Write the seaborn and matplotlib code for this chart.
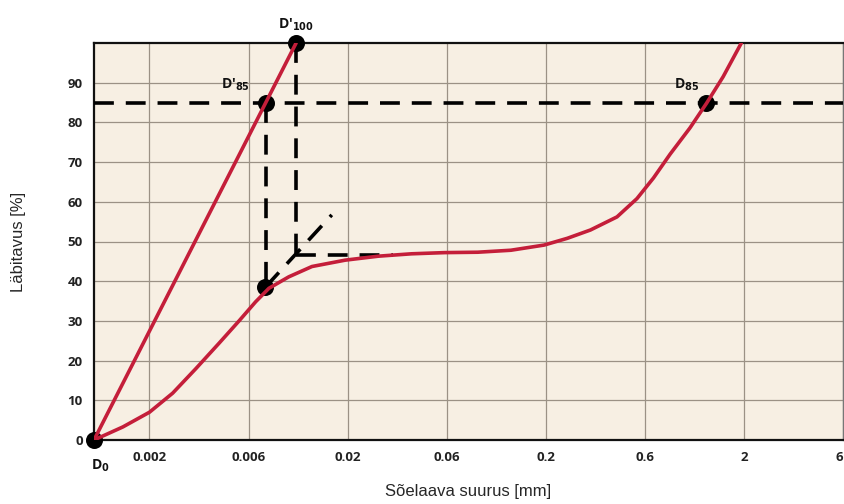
import numpy as np
import pandas as pd
import matplotlib
matplotlib.use("Agg")
import matplotlib.pyplot as plt
import seaborn as sns

# ---- data (x in evenly spaced tick-index units: 0 -> 0.002 mm, 1 -> 0.006 mm, ...) ----
tick_labels = ["0.002", "0.006", "0.02", "0.06", "0.2", "0.6", "2", "6"]
tick_pos = [0, 1, 2, 3, 4, 5, 6, 7]
y_ticks = [0, 10, 20, 30, 40, 50, 60, 70, 80, 90]

# Curve 1: grading curve (S-shaped)
curve_x = [-0.56, -0.268, 0.0, 0.234, 0.469, 0.703, 0.904, 1.071, 1.205, 1.406,
           1.640, 1.975, 2.309, 2.644, 2.979, 3.313, 3.648, 3.983, 4.217, 4.451,
           4.719, 4.920, 5.087, 5.255, 5.455, 5.622, 5.790, 5.974]
curve_y = [0.0, 3.3, 7.0, 11.8, 18.0, 24.4, 30.0, 34.8, 38.2, 41.1,
           43.7, 45.3, 46.3, 46.9, 47.2, 47.3, 47.8, 49.1, 50.8, 52.9,
           56.2, 60.8, 66.0, 72.0, 78.6, 84.8, 91.5, 100.0]

# Curve 2: straight line D0 -> D'100
line_x = [-0.56, 1.48]
line_y = [0.0, 100.0]

# Marked points
pt_names = ["D0", "D'85", "D'100", "D85", "D"]
pt_x = [-0.56, 1.18, 1.48, 5.62, 1.17]
pt_y = [0.0, 85.0, 100.0, 85.0, 38.5]

# Construction (dashed) lines
h85_x = [-0.56, 7.0]; h85_y = [85, 85]
v1_x = [1.18, 1.18]; v1_y = [85, 38.5]
v2_x = [1.48, 1.48]; v2_y = [100, 46.6]
h46_x = [1.48, 2.46]; h46_y = [46.6, 46.6]
diag_x = [1.17, 1.84]; diag_y = [38.5, 56.7]

# ---- styling ----
sns.set_theme(style="white")
plt.rcParams["font.family"] = ["DejaVu Sans"]

bg = "#F7EFE3"
red = "#C41E3A"
grid_c = "#9B9185"

fig = plt.figure(figsize=(8.45, 5.04), dpi=100)
ax = fig.add_axes([94/845, 64/504, (843-94)/845, (440-43)/504])
ax.set_facecolor(bg)

ax.set_xlim(-0.56, 7.0)
ax.set_ylim(0, 100)
ax.set_xticks(tick_pos)
ax.set_xticklabels(tick_labels)
ax.set_yticks(y_ticks)
ax.grid(True, color=grid_c, linewidth=0.9)
ax.set_axisbelow(True)
for s in ["left", "bottom", "top"]:
    ax.spines[s].set_color("#111111")
    ax.spines[s].set_linewidth(1.6)
ax.spines["right"].set_color("#777777")
ax.spines["right"].set_linewidth(1.0)
ax.tick_params(axis="both", length=0, labelsize=9.5, colors="#222222", pad=8)
for lab in ax.get_xticklabels() + ax.get_yticklabels():
    lab.set_fontweight("bold")
    lab.set_family(["Open Sans", "DejaVu Sans"])
ax.get_xticklabels()[-1].set_horizontalalignment("right")

dash = dict(color="black", linewidth=2.6, linestyle=(0, (5.5, 3.3)), zorder=3)
for xs, ys in [(h85_x, h85_y), (v1_x, v1_y), (v2_x, v2_y), (h46_x, h46_y), (diag_x, diag_y)]:
    sns.lineplot(x=xs, y=ys, ax=ax, sort=False, estimator=None, **dash)

pts = pd.DataFrame({"x": pt_x, "y": pt_y, "name": pt_names})
ax.scatter(pts["x"], pts["y"], s=150, color="black", zorder=4, clip_on=False, linewidths=0)

sns.lineplot(x=curve_x, y=curve_y, ax=ax, sort=False, estimator=None, color=red,
             linewidth=2.6, zorder=5, solid_joinstyle="round", solid_capstyle="round")
sns.lineplot(x=line_x, y=line_y, ax=ax, sort=False, estimator=None, color=red,
             linewidth=2.6, zorder=5)

lab_kw = dict(fontsize=10, fontweight="bold", color="#111111", family=["Open Sans", "DejaVu Sans"])
ax.text(1.48, 102.5, r"D'$_{\mathbf{100}}$", ha="center", va="bottom", **lab_kw)
ax.text(0.87, 87.5, r"D'$_{\mathbf{85}}$", ha="center", va="bottom", **lab_kw)
ax.text(5.42, 87.5, r"D$_{\mathbf{85}}$", ha="center", va="bottom", **lab_kw)
ax.text(-0.5, -4.5, r"D$_{\mathbf{0}}$", ha="center", va="top", **lab_kw)

ax.set_xlabel("Sõelaava suurus [mm]", fontsize=12, family=["Liberation Sans", "DejaVu Sans"],
              labelpad=14)
ax.set_ylabel("Läbitavus [%]", fontsize=12, family=["Liberation Sans", "DejaVu Sans"],
              labelpad=30)

fig.savefig("out.png", dpi=100, facecolor="white")
